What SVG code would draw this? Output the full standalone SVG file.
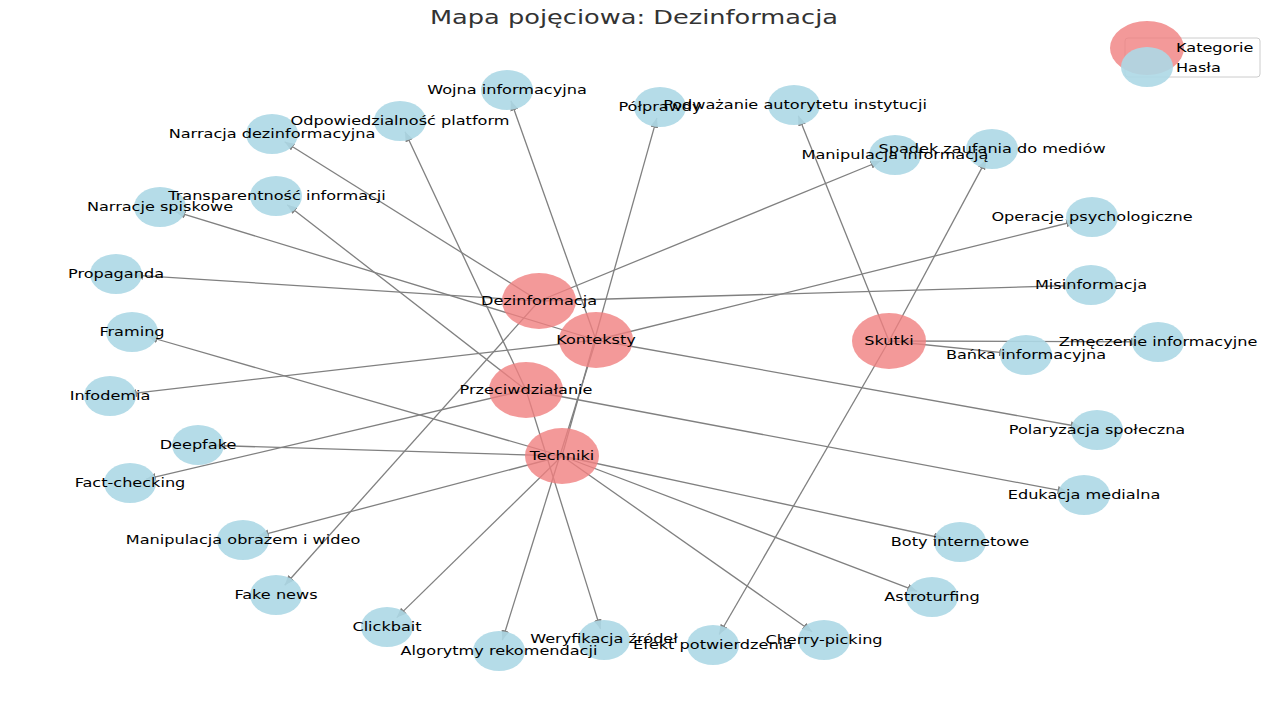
<svg xmlns="http://www.w3.org/2000/svg" width="1280" height="720" viewBox="0 0 1280 720">
<defs>
<marker id="arr" viewBox="0 0 10 8" refX="10" refY="4" markerWidth="10" markerHeight="8" markerUnits="userSpaceOnUse" orient="auto">
<path d="M0,0 L10,4 L0,8 z" fill="#808080"/>
</marker>
</defs>
<style>
.e{stroke:#808080;stroke-width:1.3;fill:none;marker-end:url(#arr)}
.cat{fill:#F08080;opacity:0.8}
.term{fill:#ADD8E6;opacity:0.9}
.lbl{font-family:"DejaVu Sans","Liberation Sans",sans-serif;font-size:12.5px;fill:#000;text-anchor:middle}
.title{font-family:"DejaVu Sans","Liberation Sans",sans-serif;font-size:19px;fill:#333;text-anchor:middle}
</style>
<rect width="1280" height="720" fill="#fff"/>
<text class="title" transform="translate(634 24) scale(1.35 1)">Mapa pojęciowa: Dezinformacja</text>

<g id="edges">
<line class="e" x1="539" y1="301" x2="284.6" y2="141.8"/>
<line class="e" x1="539" y1="301" x2="133.0" y2="275.1"/>
<line class="e" x1="539" y1="301" x2="1074.0" y2="285.5"/>
<line class="e" x1="539" y1="301" x2="880.4" y2="161.0"/>
<line class="e" x1="539" y1="301" x2="284.7" y2="585.2"/>
<line class="e" x1="596" y1="340" x2="510.9" y2="100.8"/>
<line class="e" x1="596" y1="340" x2="175.6" y2="211.7"/>
<line class="e" x1="596" y1="340" x2="126.8" y2="394.1"/>
<line class="e" x1="596" y1="340" x2="1076.0" y2="221.0"/>
<line class="e" x1="596" y1="340" x2="1080.6" y2="427.0"/>
<line class="e" x1="596" y1="340" x2="502.4" y2="640.1"/>
<line class="e" x1="889" y1="341" x2="798.3" y2="115.8"/>
<line class="e" x1="889" y1="341" x2="986.3" y2="159.6"/>
<line class="e" x1="889" y1="341" x2="1141.0" y2="341.9"/>
<line class="e" x1="889" y1="341" x2="1009.2" y2="353.3"/>
<line class="e" x1="889" y1="341" x2="719.1" y2="634.5"/>
<line class="e" x1="526" y1="390" x2="405.0" y2="131.7"/>
<line class="e" x1="526" y1="390" x2="287.2" y2="204.7"/>
<line class="e" x1="526" y1="390" x2="146.1" y2="479.2"/>
<line class="e" x1="526" y1="390" x2="1067.6" y2="491.9"/>
<line class="e" x1="526" y1="390" x2="600.6" y2="629.1"/>
<line class="e" x1="562" y1="456" x2="656.9" y2="117.9"/>
<line class="e" x1="562" y1="456" x2="215.0" y2="445.5"/>
<line class="e" x1="562" y1="456" x2="147.7" y2="336.5"/>
<line class="e" x1="562" y1="456" x2="258.9" y2="535.8"/>
<line class="e" x1="562" y1="456" x2="396.7" y2="617.6"/>
<line class="e" x1="562" y1="456" x2="943.8" y2="538.5"/>
<line class="e" x1="562" y1="456" x2="917.1" y2="591.3"/>
<line class="e" x1="562" y1="456" x2="812.1" y2="631.7"/>
</g>

<g id="n-dezinformacja"><ellipse class="cat" cx="539" cy="301" rx="37" ry="28"/></g>
<g id="n-konteksty"><ellipse class="cat" cx="596" cy="340" rx="37" ry="28"/></g>
<g id="n-skutki"><ellipse class="cat" cx="889" cy="341" rx="37" ry="28"/></g>
<g id="n-przeciwdzialanie"><ellipse class="cat" cx="526" cy="390" rx="37" ry="28"/></g>
<g id="n-techniki"><ellipse class="cat" cx="562" cy="456" rx="37" ry="28"/></g>

<g id="n-wojna"><ellipse class="term" cx="507" cy="90" rx="26" ry="20"/></g>
<g id="n-odpowiedzialnosc"><ellipse class="term" cx="400" cy="121" rx="26" ry="20"/></g>
<g id="n-narracja"><ellipse class="term" cx="272" cy="134" rx="26" ry="20"/></g>
<g id="n-polprawdy"><ellipse class="term" cx="660" cy="107" rx="26" ry="20"/></g>
<g id="n-podwazanie"><ellipse class="term" cx="794" cy="105" rx="26" ry="20"/></g>
<g id="n-manipulacja-inf"><ellipse class="term" cx="895" cy="155" rx="26" ry="20"/></g>
<g id="n-spadek"><ellipse class="term" cx="992" cy="149" rx="26" ry="20"/></g>
<g id="n-transparentnosc"><ellipse class="term" cx="276" cy="196" rx="26" ry="20"/></g>
<g id="n-narracje-spiskowe"><ellipse class="term" cx="160" cy="207" rx="26" ry="20"/></g>
<g id="n-operacje"><ellipse class="term" cx="1092" cy="217" rx="26" ry="20"/></g>
<g id="n-propaganda"><ellipse class="term" cx="116" cy="274" rx="26" ry="20"/></g>
<g id="n-misinformacja"><ellipse class="term" cx="1091" cy="285" rx="26" ry="20"/></g>
<g id="n-framing"><ellipse class="term" cx="132" cy="332" rx="26" ry="20"/></g>
<g id="n-zmeczenie"><ellipse class="term" cx="1158" cy="342" rx="26" ry="20"/></g>
<g id="n-banka"><ellipse class="term" cx="1026" cy="355" rx="26" ry="20"/></g>
<g id="n-infodemia"><ellipse class="term" cx="110" cy="396" rx="26" ry="20"/></g>
<g id="n-polaryzacja"><ellipse class="term" cx="1097" cy="430" rx="26" ry="20"/></g>
<g id="n-deepfake"><ellipse class="term" cx="198" cy="445" rx="26" ry="20"/></g>
<g id="n-factchecking"><ellipse class="term" cx="130" cy="483" rx="26" ry="20"/></g>
<g id="n-edukacja"><ellipse class="term" cx="1084" cy="495" rx="26" ry="20"/></g>
<g id="n-boty"><ellipse class="term" cx="960" cy="542" rx="26" ry="20"/></g>
<g id="n-manipulacja-obraz"><ellipse class="term" cx="243" cy="540" rx="26" ry="20"/></g>
<g id="n-astroturfing"><ellipse class="term" cx="932" cy="597" rx="26" ry="20"/></g>
<g id="n-fakenews"><ellipse class="term" cx="276" cy="595" rx="26" ry="20"/></g>
<g id="n-clickbait"><ellipse class="term" cx="387" cy="627" rx="26" ry="20"/></g>
<g id="n-weryfikacja"><ellipse class="term" cx="604" cy="640" rx="26" ry="20"/></g>
<g id="n-efekt"><ellipse class="term" cx="713" cy="645" rx="26" ry="20"/></g>
<g id="n-cherry"><ellipse class="term" cx="824" cy="640" rx="26" ry="20"/></g>
<g id="n-algorytmy"><ellipse class="term" cx="499" cy="651" rx="26" ry="20"/></g>

<g id="labels">
<text class="lbl" transform="translate(539 304.5) scale(1.29 1)">Dezinformacja</text>
<text class="lbl" transform="translate(596 343.5) scale(1.29 1)">Konteksty</text>
<text class="lbl" transform="translate(889 344.5) scale(1.29 1)">Skutki</text>
<text class="lbl" transform="translate(526 393.5) scale(1.29 1)">Przeciwdziałanie</text>
<text class="lbl" transform="translate(562 459.5) scale(1.29 1)">Techniki</text>
<text class="lbl" transform="translate(507 93.5) scale(1.29 1)">Wojna informacyjna</text>
<text class="lbl" transform="translate(400 124.5) scale(1.29 1)">Odpowiedzialność platform</text>
<text class="lbl" transform="translate(272 137.5) scale(1.29 1)">Narracja dezinformacyjna</text>
<text class="lbl" transform="translate(660 110.5) scale(1.29 1)">Półprawdy</text>
<text class="lbl" transform="translate(795 108.5) scale(1.29 1)">Podważanie autorytetu instytucji</text>
<text class="lbl" transform="translate(895 158.5) scale(1.29 1)">Manipulacja informacją</text>
<text class="lbl" transform="translate(992 152.5) scale(1.29 1)">Spadek zaufania do mediów</text>
<text class="lbl" transform="translate(277 199.5) scale(1.29 1)">Transparentność informacji</text>
<text class="lbl" transform="translate(160 210.5) scale(1.29 1)">Narracje spiskowe</text>
<text class="lbl" transform="translate(1092 220.5) scale(1.29 1)">Operacje psychologiczne</text>
<text class="lbl" transform="translate(116 277.5) scale(1.29 1)">Propaganda</text>
<text class="lbl" transform="translate(1091 288.5) scale(1.29 1)">Misinformacja</text>
<text class="lbl" transform="translate(132 335.5) scale(1.29 1)">Framing</text>
<text class="lbl" transform="translate(1158 345.5) scale(1.29 1)">Zmęczenie informacyjne</text>
<text class="lbl" transform="translate(1026 358.5) scale(1.29 1)">Bańka informacyjna</text>
<text class="lbl" transform="translate(110 399.5) scale(1.29 1)">Infodemia</text>
<text class="lbl" transform="translate(1097 433.5) scale(1.29 1)">Polaryzacja społeczna</text>
<text class="lbl" transform="translate(198 448.5) scale(1.29 1)">Deepfake</text>
<text class="lbl" transform="translate(130 486.5) scale(1.29 1)">Fact-checking</text>
<text class="lbl" transform="translate(1084 498.5) scale(1.29 1)">Edukacja medialna</text>
<text class="lbl" transform="translate(960 545.5) scale(1.29 1)">Boty internetowe</text>
<text class="lbl" transform="translate(243 543.5) scale(1.29 1)">Manipulacja obrazem i wideo</text>
<text class="lbl" transform="translate(932 600.5) scale(1.29 1)">Astroturfing</text>
<text class="lbl" transform="translate(276 598.5) scale(1.29 1)">Fake news</text>
<text class="lbl" transform="translate(387 630.5) scale(1.29 1)">Clickbait</text>
<text class="lbl" transform="translate(604 642.5) scale(1.29 1)">Weryfikacja źródeł</text>
<text class="lbl" transform="translate(713 648.5) scale(1.29 1)">Efekt potwierdzenia</text>
<text class="lbl" transform="translate(824 643.5) scale(1.29 1)">Cherry-picking</text>
<text class="lbl" transform="translate(499 654.5) scale(1.29 1)">Algorytmy rekomendacji</text>
</g>

<g id="legend">
<rect x="1125" y="38" width="135" height="39" rx="3" fill="#fff" fill-opacity="0.8" stroke="#cccccc" stroke-width="1"/>
<ellipse class="cat" cx="1147" cy="48" rx="37" ry="27"/>
<ellipse class="term" cx="1147" cy="67" rx="26" ry="20"/>
<text class="lbl" style="text-anchor:start" transform="translate(1176 52) scale(1.29 1)">Kategorie</text>
<text class="lbl" style="text-anchor:start" transform="translate(1176 71.5) scale(1.29 1)">Hasła</text>
</g>
</svg>
